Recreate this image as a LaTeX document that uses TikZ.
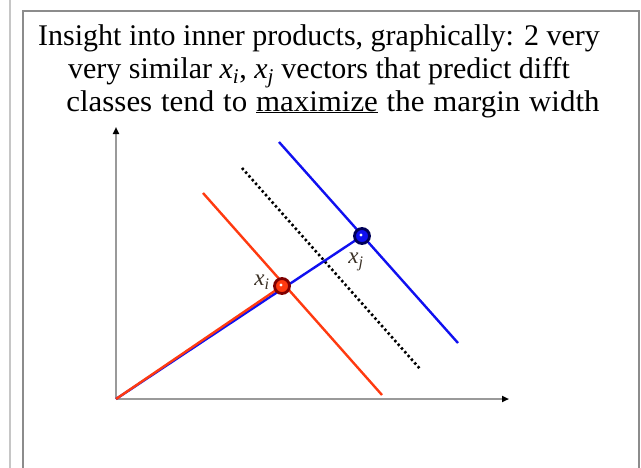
\documentclass[tikz,border=0pt]{standalone}
\usepackage{fontspec}
\setmainfont{Liberation Serif}
\usetikzlibrary{arrows.meta,calc}
\definecolor{redl}{HTML}{FF3A10}
\definecolor{bluel}{HTML}{1010F0}
\definecolor{axisgray}{HTML}{9A9A9A}
\definecolor{labelc}{HTML}{3A3025}
\tikzset{
  axisline/.style={axisgray, line width=2.4pt, -{Triangle[black,length=7pt,width=6pt]}},
  redline/.style={redl, line width=2.4pt},
  blueline/.style={bluel, line width=2.4pt},
  dotline/.style={black, line width=2.6pt, dash pattern=on 2.4pt off 2.6pt},
  titletext/.style={font=\fontsize{30}{33}\selectfont, anchor=base, inner sep=0pt},
  vlabel/.style={text=labelc, font=\fontsize{23}{26}\selectfont\itshape, inner sep=0pt},
  ball/.style={circle, minimum size=15pt, inner sep=0pt, line width=2.8pt}
}
\begin{document}
\begin{tikzpicture}[x=1pt,y=-1pt]
\useasboundingbox (0,0) rectangle (641,467);
\fill[white] (0,0) rectangle (641,467);
% frame
\draw[gray!45, line width=2.4pt] (10,-2) -- (10,470);
\draw[gray!90, line width=1.4pt] (23,470) -- (23,11) -- (639,11) -- (639,470);
% title
\node[titletext] (t1) at (319,45) {Insight into inner products, graphically: 2 very};
\node[titletext] (t2) at (319,78) {very similar \textit{x}\textsubscript{\textit{i}}, \textit{x}\textsubscript{\textit{j}} vectors that predict difft};
\node[titletext, xscale=1.03] (t3) at (333,111) {\spaceskip=8.6pt classes tend to \underline{maximize} the margin width};
% axes
\coordinate (O) at (116,399);
\coordinate (ytip) at (116,127);
\coordinate (xtip) at (509,399);
\draw[axisline] (O) -- (ytip);
\draw[axisline] (O) -- (xtip);
% boundaries
\coordinate (rb1) at (203,193);
\coordinate (rb2) at (382,395);
\coordinate (bb1) at (279,142);
\coordinate (bb2) at (458,343);
\coordinate (db1) at (242,168);
\coordinate (db2) at (421,370);
\draw[redline] (rb1) -- (rb2);
\draw[blueline] (bb1) -- (bb2);
\draw[dotline] (db1) -- (db2);
% points
\coordinate (pi) at (282,286);
\coordinate (pj) at (362,236);
\draw[blueline] (O) -- (pj);
\draw[redline] (O) -- (pi);
\node[ball, draw=red!50!black, fill=redl] (xi) at (pi) {};
\node[ball, draw=blue!35!black, fill=bluel] (xj) at (pj) {};
\fill[white] ($(pi)+(-1,-1)$) circle (1.6);
\fill[white] ($(pj)+(-1,-1)$) circle (1.6);
\node[vlabel] (li) at (262,282) {x\textsubscript{i}};
\node[vlabel] (lj) at (356,262) {x\textsubscript{j}};
\end{tikzpicture}
\end{document}
